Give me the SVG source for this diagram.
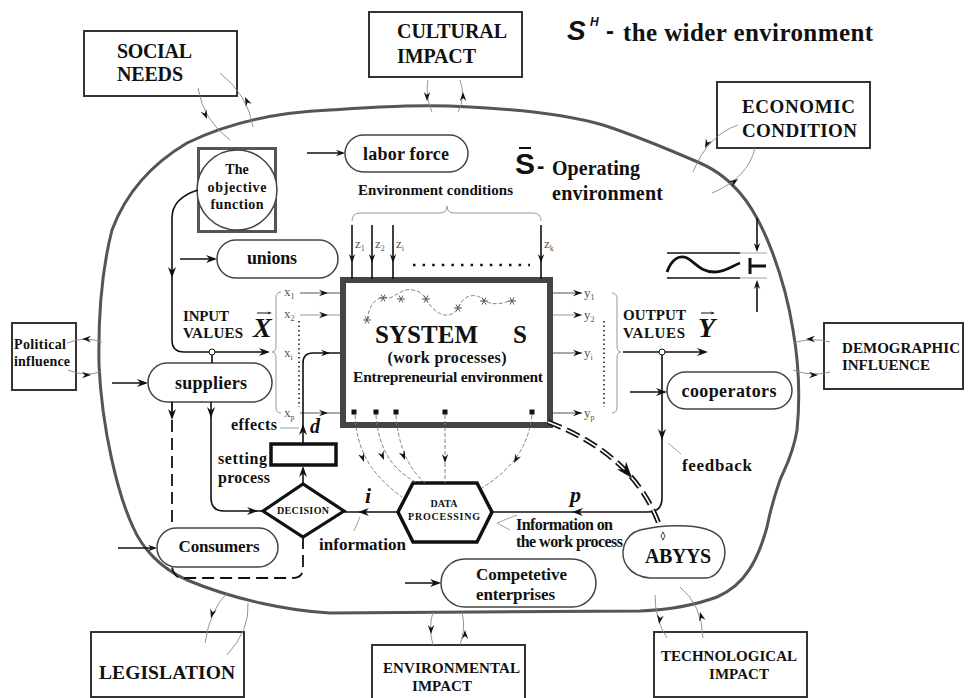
<svg xmlns="http://www.w3.org/2000/svg" width="968" height="698" viewBox="0 0 968 698">
<style>
.t{font-family:"Liberation Serif","Times New Roman",serif;font-weight:bold;fill:#111}
.ti{font-family:"Liberation Serif","Times New Roman",serif;font-weight:bold;font-style:italic;fill:#111}
.lb{font-family:"Liberation Serif","Times New Roman",serif;fill:#555;font-size:13px}
.sn{font-family:"Liberation Sans",Arial,sans-serif;font-weight:bold;fill:#111}
.box{fill:#fff;stroke:#333;stroke-width:2}
.pill{fill:#fff;stroke:#444;stroke-width:1.5}
.arc{fill:none;stroke:#888;stroke-width:0.9}
.ln{fill:none;stroke:#111;stroke-width:1.6}
.gl{fill:none;stroke:#999;stroke-width:1}
.dl{fill:none;stroke:#111;stroke-width:1.8;stroke-dasharray:12 6}
.cv{fill:none;stroke:#777;stroke-width:0.9;stroke-dasharray:4 2}
</style>
<defs>
<path id="ah" d="M0,0 L-11,-4 L-7.5,0 L-11,4 Z" fill="#111"/>
<path id="ahs" d="M0,0 L-9,-3.2 L-6,0 L-9,3.2 Z" fill="#111"/>
<path id="star" d="M-4,0 L4,0 M-2,-3.5 L2,3.5 M2,-3.5 L-2,3.5" stroke="#555" stroke-width="1" fill="none"/>
</defs>
<rect width="968" height="698" fill="#fff"/>

<g id="operating-environment">
<path d="M187,143 C230,122 280,112 330,110 C380,107 420,104 470,107 C530,110 575,117 603,125 C640,137 670,150 700,163 C720,172 730,182 740,193 C765,222 785,280 793,330 C800,370 800,400 797,430 C793,455 785,468 780,480 C773,500 770,512 767,527 C758,560 745,585 717,597 C690,607 665,610 640,611 L330,613 C290,611 235,600 187,580 C160,568 142,548 133,527 C118,495 102,430 99,365 C98,310 103,265 112,230 C125,195 150,165 187,143 Z" fill="none" stroke="#555" stroke-width="3"/>
</g>

<g id="title-wider">
<text class="sn" x="567" y="40" font-size="28" font-style="italic">S</text>
<text class="sn" x="590" y="26" font-size="12" font-style="italic" font-weight="normal">H</text>
<text class="sn" x="606" y="39" font-size="24">-</text>
<text class="t" x="623" y="41" font-size="25" textLength="250">the wider environment</text>
</g>

<g id="title-operating">
<text class="sn" x="515" y="174" font-size="30" font-weight="normal">S</text>
<line x1="519" y1="148" x2="531" y2="148" stroke="#111" stroke-width="2"/>
<text class="sn" x="537" y="173" font-size="22">-</text>
<text class="t" x="552" y="175" font-size="20" textLength="88">Operating</text>
<text class="t" x="552" y="200" font-size="20" textLength="111">environment</text>
</g>

<g id="social-needs">
<rect class="box" x="84" y="31" width="153" height="65"/>
<text class="t" x="117" y="58" font-size="20" textLength="75">SOCIAL</text>
<text class="t" x="117" y="81" font-size="20" textLength="66">NEEDS</text>
</g>
<g id="cultural-impact">
<rect class="box" x="369" y="12" width="153" height="65"/>
<text class="t" x="397" y="38" font-size="20" textLength="110">CULTURAL</text>
<text class="t" x="397" y="63" font-size="20" textLength="79">IMPACT</text>
</g>
<g id="economic-condition">
<rect class="box" x="717" y="82" width="153" height="66"/>
<text class="t" x="742" y="113" font-size="19" textLength="113">ECONOMIC</text>
<text class="t" x="742" y="137" font-size="19" textLength="115">CONDITION</text>
</g>
<g id="political-influence">
<rect class="box" x="12" y="323" width="64" height="67"/>
<text class="t" x="14" y="349" font-size="14" textLength="52">Political</text>
<text class="t" x="14" y="366" font-size="14" textLength="56">influence</text>
</g>
<g id="demographic-influence">
<rect class="box" x="824" y="323" width="139" height="66"/>
<text class="t" x="842" y="353" font-size="15" textLength="118">DEMOGRAPHIC</text>
<text class="t" x="842" y="370" font-size="15" textLength="88">INFLUENCE</text>
</g>
<g id="legislation">
<rect class="box" x="91" y="632" width="153" height="65"/>
<text class="t" x="99" y="679" font-size="19.5" textLength="136">LEGISLATION</text>
</g>
<g id="environmental-impact">
<rect class="box" x="372" y="645" width="153" height="55"/>
<text class="t" x="383" y="673" font-size="15" textLength="137">ENVIRONMENTAL</text>
<text class="t" x="412" y="691" font-size="15" textLength="60">IMPACT</text>
</g>
<g id="technological-impact">
<rect class="box" x="654" y="632" width="153" height="65"/>
<text class="t" x="661" y="661" font-size="15" textLength="136">TECHNOLOGICAL</text>
<text class="t" x="709" y="679" font-size="15" textLength="60">IMPACT</text>
</g>

<g id="objective-function">
<rect x="198.5" y="148.5" width="77" height="83" fill="#fff" stroke="#555" stroke-width="3"/>
<circle cx="237" cy="190" r="40" fill="#fff" stroke="#444" stroke-width="1.5"/>
<text class="t" x="237" y="174" font-size="14" text-anchor="middle">The</text>
<text class="t" x="237" y="192" font-size="14" text-anchor="middle" textLength="59">objective</text>
<text class="t" x="237" y="209" font-size="14" text-anchor="middle" textLength="53">function</text>
</g>

<g id="labor-force">
<rect class="pill" x="345" y="135" width="123" height="37" rx="18.5"/>
<text class="t" x="406" y="160" font-size="18" text-anchor="middle" textLength="86">labor force</text>
</g>
<g id="unions">
<rect class="pill" x="217" y="240" width="121" height="38" rx="19"/>
<text class="t" x="272" y="264" font-size="18" text-anchor="middle" textLength="50">unions</text>
</g>
<g id="suppliers">
<rect class="pill" x="148" y="363" width="124" height="39" rx="19.5"/>
<text class="t" x="211" y="389" font-size="18" text-anchor="middle" textLength="72">suppliers</text>
</g>
<g id="consumers">
<rect class="pill" x="157" y="528" width="121" height="39" rx="19.5"/>
<text class="t" x="219" y="552" font-size="17" text-anchor="middle" textLength="81">Consumers</text>
</g>
<g id="cooperators">
<rect class="pill" x="667" y="372" width="125" height="37" rx="18.5"/>
<text class="t" x="729" y="397" font-size="18" text-anchor="middle" textLength="95">cooperators</text>
</g>
<g id="competetive-enterprises">
<rect class="pill" x="441" y="559" width="155" height="48" rx="24"/>
<text class="t" x="476" y="580" font-size="17" textLength="91">Competetive</text>
<text class="t" x="476" y="600" font-size="17" textLength="79">enterprises</text>
</g>

<g id="system">
<rect x="343" y="280" width="207" height="145" fill="#fff" stroke="#444" stroke-width="6"/>
<path class="cv" d="M367,320 C370,300 380,295 390,298 C400,293 405,288 413,290 C425,292 425,300 430,305 C440,318 452,318 458,308 C463,295 475,292 484,300 C490,305 500,305 512,300"/>
<use href="#star" transform="translate(367,320)"/>
<use href="#star" transform="translate(383,298)"/>
<use href="#star" transform="translate(401,299)"/>
<use href="#star" transform="translate(426,299)"/>
<use href="#star" transform="translate(458,308)"/>
<use href="#star" transform="translate(484,301)"/>
<use href="#star" transform="translate(512,301)"/>
<text class="t" x="375" y="343" font-size="25" textLength="103">SYSTEM</text>
<text class="t" x="513" y="343" font-size="25">S</text>
<text class="t" x="447" y="363" font-size="16" text-anchor="middle" textLength="119">(work processes)</text>
<text class="t" x="448" y="382" font-size="15.5" text-anchor="middle" textLength="190">Entrepreneurial environment</text>
<rect x="351.5" y="409.5" width="5" height="5" fill="#111"/>
<rect x="373.5" y="409.5" width="5" height="5" fill="#111"/>
<rect x="393.5" y="409.5" width="5" height="5" fill="#111"/>
<rect x="442.5" y="409.5" width="5" height="5" fill="#111"/>
<rect x="529.5" y="409.5" width="5" height="5" fill="#111"/>
</g>

<g id="env-conditions">
<text class="t" x="358" y="195" font-size="15" textLength="155">Environment conditions</text>
<path class="gl" d="M352,221 Q352,213 360,213 L440,213 Q447,213 447,206 Q447,213 454,213 L533,213 Q541,213 541,221"/>
<line x1="413" y1="265" x2="530" y2="265" stroke="#111" stroke-width="2.5" stroke-dasharray="2.5 7.1"/>
<text class="lb" x="355" y="248">z<tspan font-size="8" dy="3">1</tspan></text>
<text class="lb" x="375" y="248">z<tspan font-size="8" dy="3">2</tspan></text>
<text class="lb" x="396" y="248">z<tspan font-size="8" dy="3">i</tspan></text>
<text class="lb" x="544" y="248">z<tspan font-size="8" dy="3">k</tspan></text>
</g>

<g id="input-values">
<text class="t" x="183" y="321" font-size="15" textLength="46">INPUT</text>
<text class="t" x="183" y="338" font-size="15" textLength="60">VALUES</text>
<text class="ti" x="253" y="337" font-size="28">X</text>
<line x1="257" y1="313" x2="270" y2="313" stroke="#111" stroke-width="1"/>
<use href="#ahs" transform="translate(272,313) scale(0.5)"/>
<path class="gl" d="M281,292 Q276,292 276,298 L276,346 Q276,352 272,352 Q276,352 276,358 L276,407 Q276,413 281,413"/>
<text class="lb" x="284" y="296">x<tspan font-size="8" dy="3">1</tspan></text>
<text class="lb" x="284" y="318">x<tspan font-size="8" dy="3">2</tspan></text>
<text class="lb" x="284" y="357">x<tspan font-size="8" dy="3">i</tspan></text>
<text class="lb" x="284" y="417">x<tspan font-size="8" dy="3">p</tspan></text>
<line x1="299" y1="321" x2="299" y2="407" stroke="#111" stroke-width="1.5" stroke-dasharray="1.5 3"/>
</g>

<g id="output-values">
<text class="t" x="623" y="320" font-size="15" textLength="63">OUTPUT</text>
<text class="t" x="623" y="338" font-size="15" textLength="62">VALUES</text>
<text class="ti" x="698" y="337" font-size="28">Y</text>
<line x1="701" y1="313" x2="713" y2="313" stroke="#111" stroke-width="1"/>
<use href="#ahs" transform="translate(715,313) scale(0.5)"/>
<path class="gl" d="M612,293 Q617,293 617,299 L617,346 Q617,352 621,352 Q617,352 617,358 L617,407 Q617,413 612,413"/>
<text class="lb" x="584" y="297">y<tspan font-size="8" dy="3">1</tspan></text>
<text class="lb" x="584" y="319">y<tspan font-size="8" dy="3">2</tspan></text>
<text class="lb" x="584" y="357">y<tspan font-size="8" dy="3">i</tspan></text>
<text class="lb" x="584" y="417">y<tspan font-size="8" dy="3">p</tspan></text>
<line x1="604" y1="321" x2="604" y2="407" stroke="#111" stroke-width="1.5" stroke-dasharray="1.5 3"/>
</g>

<g id="noise-symbol">
<line x1="667" y1="253" x2="740" y2="253" stroke="#111" stroke-width="1.6"/>
<line x1="740" y1="253" x2="767" y2="253" stroke="#999" stroke-width="0.9"/>
<line x1="667" y1="278" x2="740" y2="278" stroke="#111" stroke-width="1.6"/>
<line x1="740" y1="278" x2="767" y2="278" stroke="#999" stroke-width="0.9"/>
<path d="M667,272 C672,258 680,255 687,258 C695,262 700,272 715,272 C725,272 732,266 740,263" fill="none" stroke="#111" stroke-width="2.8"/>
<path d="M750,258 L750,274 M750,266 L766,266" fill="none" stroke="#111" stroke-width="3"/>
</g>

<g id="setting-process">
<rect x="271" y="444" width="65" height="21" fill="#fff" stroke="#111" stroke-width="3.5"/>
<text class="t" x="218" y="464" font-size="16" textLength="49">setting</text>
<text class="t" x="218" y="483" font-size="16" textLength="52">process</text>
</g>
<g id="decision">
<polygon points="263,511 303,484 344,511 303,537" fill="#fff" stroke="#111" stroke-width="3.2"/>
<text class="t" x="303" y="514" font-size="10" text-anchor="middle" textLength="52" font-weight="normal">DECISION</text>
</g>
<g id="data-processing">
<polygon points="398,512 413,483 477,483 492,512 477,542 413,542" fill="#fff" stroke="#111" stroke-width="3.5"/>
<text class="t" x="444" y="507" font-size="10" text-anchor="middle">DATA</text>
<text class="t" x="444" y="520" font-size="10" text-anchor="middle" textLength="72">PROCESSING</text>
</g>
<g id="abyys">
<path d="M640,530 C665,524 712,522 722,540 C730,556 720,578 705,578 L650,578 C628,576 620,560 624,546 C627,536 633,532 640,530 Z" fill="#fff" stroke="#444" stroke-width="1.5"/>
<text class="t" x="678" y="563" font-size="20" text-anchor="middle" textLength="66">ABYYS</text>
<path d="M663,532 L665,536 L663,540 L661,536 Z" fill="none" stroke="#111" stroke-width="0.8"/>
</g>

<g id="labels">
<text class="t" x="231" y="430" font-size="16" textLength="46">effects</text>
<text class="ti" x="310" y="433" font-size="20">d</text>
<text class="ti" x="365" y="503" font-size="22">i</text>
<text class="ti" x="570" y="502" font-size="22">p</text>
<text class="t" x="319" y="550" font-size="17" textLength="87">information</text>
<text class="t" x="516" y="530" font-size="16" textLength="97">Information on</text>
<text class="t" x="516" y="547" font-size="16" textLength="107">the work process</text>
<text class="t" x="682" y="471" font-size="17" textLength="70">feedback</text>
</g>

<g id="connectors">
<path class="arc" d="M198,88 Q203,120 230,140"/><use href="#ahs" transform="translate(207,119) rotate(68)"/>
<path class="arc" d="M253,127 Q248,95 220,73"/><use href="#ahs" transform="translate(245,97) rotate(-115)"/>
<path class="arc" d="M428,80 Q425,97 432,112"/><use href="#ahs" transform="translate(427,101) rotate(90)"/>
<path class="arc" d="M458,112 Q466,97 460,80"/><use href="#ahs" transform="translate(463,92) rotate(-90)"/>
<path class="arc" d="M738,125 Q708,135 693,172"/><use href="#ahs" transform="translate(705,148) rotate(115)"/>
<path class="arc" d="M712,193 Q748,178 755,148"/><use href="#ahs" transform="translate(738,179) rotate(-35)"/>
<path class="arc" d="M102,342 Q85,336 67,343"/><use href="#ahs" transform="translate(82,339) rotate(180)"/>
<path class="arc" d="M68,370 Q85,377 100,372"/><use href="#ahs" transform="translate(91,375) rotate(0)"/>
<path class="arc" d="M830,342 Q812,337 793,343"/><use href="#ahs" transform="translate(806,339) rotate(180)"/>
<path class="arc" d="M793,370 Q812,377 830,372"/><use href="#ahs" transform="translate(818,375) rotate(0)"/>
<path class="arc" d="M227,593 Q210,610 205,643"/><use href="#ahs" transform="translate(211,618) rotate(105)"/>
<path class="arc" d="M227,655 Q250,630 248,603"/>
<path class="arc" d="M433,612 Q428,628 433,645"/><use href="#ahs" transform="translate(431,634) rotate(90)"/>
<path class="arc" d="M460,645 Q466,628 462,612"/><use href="#ahs" transform="translate(465,630) rotate(-90)"/>
<path class="arc" d="M655,595 Q655,620 667,638"/><use href="#ahs" transform="translate(659,624) rotate(100)"/>
<path class="arc" d="M703,638 Q702,605 680,587"/><use href="#ahs" transform="translate(700,612) rotate(-105)"/>

<line class="ln" x1="757" y1="218" x2="757" y2="250" stroke-width="1"/><use href="#ahs" transform="translate(757,252) rotate(90)"/>
<line class="ln" x1="757" y1="312" x2="757" y2="282" stroke-width="1"/><use href="#ahs" transform="translate(757,280) rotate(-90)"/>

<line class="ln" x1="307" y1="153" x2="343" y2="153" stroke-width="1.2"/><use href="#ahs" transform="translate(345,153)"/>
<line class="ln" x1="180" y1="259" x2="215" y2="259" stroke-width="1.2"/><use href="#ah" transform="translate(217,259)"/>
<line class="ln" x1="112" y1="383" x2="146" y2="383" stroke-width="1.2"/><use href="#ah" transform="translate(148,383)"/>
<line class="ln" x1="118" y1="548" x2="155" y2="548" stroke-width="1"/><use href="#ahs" transform="translate(157,548)"/>
<line class="ln" x1="630" y1="392" x2="665" y2="392" stroke-width="1"/><use href="#ah" transform="translate(667,392)"/>
<line class="ln" x1="405" y1="583" x2="439" y2="583" stroke-width="1"/><use href="#ah" transform="translate(441,583)"/>

<path class="ln" d="M198,190 C182,195 172,203 172,218 L172,340 Q172,352 184,352 L268,352"/>
<use href="#ah" transform="translate(172,278) rotate(90)"/>
<use href="#ah" transform="translate(270,352)"/>
<line class="ln" x1="212" y1="355" x2="212" y2="363" stroke-width="1.2"/>
<circle cx="212" cy="352" r="3" fill="#fff" stroke="#111" stroke-width="1"/>

<line class="ln" x1="352" y1="225" x2="352" y2="279" stroke-width="1"/><use href="#ahs" transform="translate(352,263) rotate(90)"/>
<line class="ln" x1="372" y1="225" x2="372" y2="279" stroke-width="1"/><use href="#ahs" transform="translate(372,263) rotate(90)"/>
<line class="ln" x1="393" y1="225" x2="393" y2="279" stroke-width="1"/><use href="#ahs" transform="translate(393,263) rotate(90)"/>
<line class="ln" x1="541" y1="225" x2="541" y2="279" stroke-width="1"/><use href="#ahs" transform="translate(541,263) rotate(90)"/>

<line x1="300" y1="293" x2="340" y2="293" stroke="#555" stroke-width="1"/><use href="#ahs" transform="translate(328,293)"/>
<line x1="300" y1="315" x2="340" y2="315" stroke="#999" stroke-width="1"/><use href="#ahs" transform="translate(328,315)"/>
<line x1="300" y1="413" x2="340" y2="413" stroke="#555" stroke-width="1"/><use href="#ahs" transform="translate(328,413)"/>

<line x1="553" y1="293" x2="582" y2="293" stroke="#555" stroke-width="1"/><use href="#ahs" transform="translate(582,293)"/>
<line x1="553" y1="315" x2="582" y2="315" stroke="#999" stroke-width="1"/><use href="#ahs" transform="translate(582,315)"/>
<line x1="553" y1="353" x2="582" y2="353" stroke="#555" stroke-width="1"/><use href="#ahs" transform="translate(582,353)"/>
<line x1="553" y1="413" x2="582" y2="413" stroke="#555" stroke-width="1"/><use href="#ahs" transform="translate(582,413)"/>

<path class="ln" d="M623,352 L704,352"/><use href="#ah" transform="translate(708,352)"/>
<path class="ln" d="M662,352 L662,498 Q662,512 648,512 L492,512"/>
<use href="#ah" transform="translate(662,440) rotate(90)"/>
<use href="#ah" transform="translate(572,512) rotate(180)"/>
<circle cx="662" cy="352" r="3" fill="#fff" stroke="#111" stroke-width="1"/>
<line x1="668" y1="443" x2="681" y2="454" stroke="#999" stroke-width="0.9"/>

<path class="ln" d="M211,402 L211,498 Q211,511 224,511 L263,511"/>
<use href="#ah" transform="translate(211,418) rotate(90)"/>
<use href="#ah" transform="translate(258,511)"/>
<path class="dl" d="M172,402 L172,528"/>
<use href="#ah" transform="translate(172,420) rotate(90)"/>
<path class="dl" d="M303,537 L303,568 Q303,578 293,578 L182,578 Q174,578 172,567"/>

<path class="ln" d="M303,484 L303,468"/><use href="#ah" transform="translate(303,466) rotate(-90)"/>
<path class="ln" d="M303,444 L303,363 Q303,353 313,353 L340,353"/>
<use href="#ah" transform="translate(303,424) rotate(-90)"/>
<use href="#ahs" transform="translate(330,353)"/>
<line x1="280" y1="428" x2="299" y2="428" stroke="#999" stroke-width="1"/>

<path class="ln" d="M398,512 L344,512"/><use href="#ah" transform="translate(358,512) rotate(180)"/>
<line x1="360" y1="517" x2="354" y2="531" stroke="#999" stroke-width="0.9"/>
<polyline points="517,515 497,523 510,530" fill="none" stroke="#999" stroke-width="0.9"/>

<path class="cv" d="M355,415 C357,445 365,470 402,497"/><use href="#ahs" transform="translate(364,462) rotate(72)"/>
<path class="cv" d="M376,415 C378,445 390,470 418,483"/><use href="#ahs" transform="translate(384,460) rotate(68)"/>
<path class="cv" d="M396,415 C398,445 408,468 425,483"/><use href="#ahs" transform="translate(405,460) rotate(70)"/>
<path class="cv" d="M445,415 L445,483"/><use href="#ahs" transform="translate(445,463) rotate(90)"/>
<path class="cv" d="M532,415 C528,450 510,470 482,488"/><use href="#ahs" transform="translate(514,463) rotate(118)"/>

<path d="M548,422 Q635,455 660,527" fill="none" stroke="#111" stroke-width="5" stroke-dasharray="14 6"/>
<path d="M548,422 Q635,455 660,527" fill="none" stroke="#fff" stroke-width="1.6" stroke-dasharray="14 6"/>
<use href="#ah" transform="translate(632,478) rotate(50) scale(1.5)"/>
</g>
</svg>
